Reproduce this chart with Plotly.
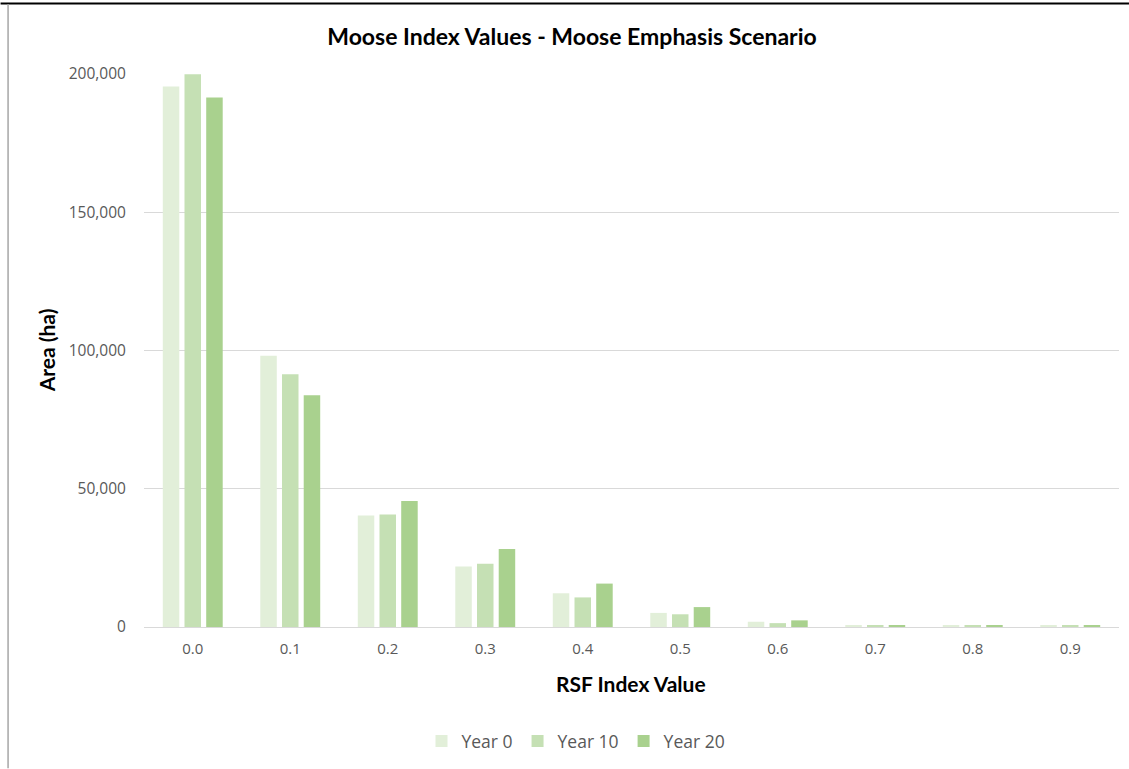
import plotly.graph_objects as go

categories = ["0.0", "0.1", "0.2", "0.3", "0.4", "0.5", "0.6", "0.7", "0.8", "0.9"]
year0 = [195500, 98100, 40300, 21900, 12200, 5100, 1900, 500, 500, 500]
year10 = [199900, 91400, 40700, 22900, 10700, 4600, 1400, 500, 500, 500]
year20 = [191500, 83800, 45600, 28200, 15700, 7200, 2400, 600, 600, 600]
series_names = ["Year 0", "Year 10", "Year 20"]
colors = ["#e2efd9", "#c5e0b4", "#a9d18e"]

W, H = 1129, 769
ML, MR, MT, MB = 143.5, 10, 74, 141.5
pw = W - ML - MR
ph = H - MT - MB

fig = go.Figure()
for name, vals, c in zip(series_names, [year0, year10, year20], colors):
    fig.add_trace(go.Bar(x=categories, y=vals, name=name, marker_color=c,
                         marker_line_width=0))

def px_to_paper_x(px):
    return (px - ML) / pw

def px_to_paper_y(py):
    return (H - MB - py) / ph

fig.update_layout(
    width=W, height=H,
    margin=dict(l=ML, r=MR, t=MT, b=MB),
    paper_bgcolor="white", plot_bgcolor="white",
    barmode="group", bargap=0.332, bargroupgap=0.24,
    font=dict(family="Open Sans", color="#595959"),
    title=dict(text="<b>Moose Index Values - Moose Emphasis Scenario</b>",
               x=572 / W, xref="container", xanchor="center",
               y=1 - 37 / H, yref="container", yanchor="middle",
               font=dict(family="Lato", size=23, color="#000000")),
    showlegend=True,
    legend=dict(orientation="h", xref="container", x=576 / W, xanchor="center",
                yref="container", y=1 - 741 / H, yanchor="middle",
                font=dict(family="Open Sans", size=17.5, color="#595959"),
                itemwidth=30, traceorder="normal"),
    xaxis=dict(type="category", showgrid=False, showline=True,
               linecolor="#d9d9d9", linewidth=1,
               ticks="outside", ticklen=8, tickcolor="rgba(0,0,0,0)",
               tickfont=dict(family="Open Sans", size=15, color="#595959")),
    yaxis=dict(range=[0, 200000], tickvals=[0, 50000, 100000, 150000, 200000],
               tickformat=",d", showgrid=True, gridcolor="#d9d9d9", gridwidth=1,
               zeroline=False, showline=False,
               ticks="outside", ticklen=14, tickcolor="rgba(0,0,0,0)",
               tickfont=dict(family="Open Sans", size=15.5, color="#595959")),
    annotations=[
        dict(text="<b>Area (ha)</b>", xref="paper", yref="paper",
             x=px_to_paper_x(46), y=px_to_paper_y(351), textangle=-90,
             showarrow=False, xanchor="center", yanchor="middle",
             font=dict(family="Lato", size=21, color="#000000")),
        dict(text="<b>RSF Index Value</b>", xref="paper", yref="paper",
             x=px_to_paper_x(631), y=px_to_paper_y(684),
             showarrow=False, xanchor="center", yanchor="middle",
             font=dict(family="Lato", size=21, color="#000000")),
    ],
    shapes=[
        dict(type="line", xref="paper", yref="paper",
             x0=px_to_paper_x(0), x1=px_to_paper_x(W), y0=px_to_paper_y(3.5), y1=px_to_paper_y(3.5),
             line=dict(color="#000000", width=2)),
        dict(type="line", xref="paper", yref="paper",
             x0=px_to_paper_x(7.5), x1=px_to_paper_x(7.5), y0=px_to_paper_y(4), y1=px_to_paper_y(H),
             line=dict(color="#a6a6a6", width=1.5)),
    ],
)

fig.write_html("out.html")
